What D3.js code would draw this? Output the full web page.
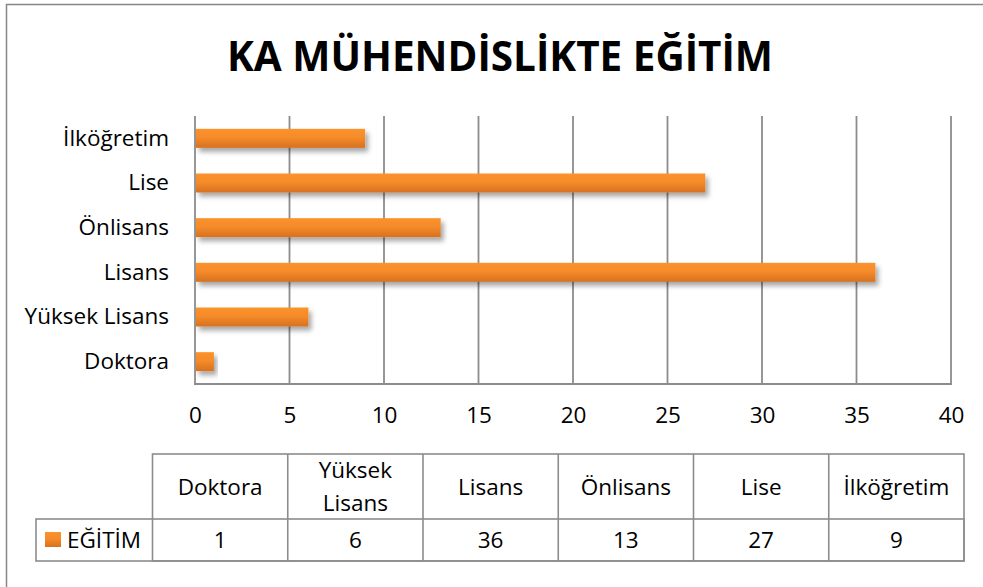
<!DOCTYPE html>
<html>
<head>
<meta charset="utf-8">
<script src="https://cdn.jsdelivr.net/npm/d3@7"></script>
<style>
  body { margin: 0; background: #fff; }
  text { font-family: "Open Sans", sans-serif; fill: #000; }
</style>
</head>
<body>
<div id="chart"></div>
<script>
var width = 983
var height = 587

// data, bottom to top as in the chart
var categories = ["Doktora", "Yüksek Lisans", "Lisans", "Önlisans", "Lise", "İlköğretim"]
var values = [1, 6, 36, 13, 27, 9]
var ticks = [0, 5, 10, 15, 20, 25, 30, 35, 40]
var seriesName = "EĞİTİM"
var title = "KA MÜHENDİSLİKTE EĞİTİM"
// header labels in the table (line breaks where the cell wraps)
var tableHeaders = [["Doktora"], ["Yüksek", "Lisans"], ["Lisans"], ["Önlisans"], ["Lise"], ["İlköğretim"]]

var svg = d3.select("#chart")
  .append("svg")
    .attr("width", width)
    .attr("height", height)

var defs = svg.append("defs")
var grad = defs.append("linearGradient")
    .attr("id", "barGrad")
    .attr("x1", 0).attr("y1", 0).attr("x2", 0).attr("y2", 1)
grad.append("stop").attr("offset", "0%").attr("stop-color", "#fb922c")
grad.append("stop").attr("offset", "45%").attr("stop-color", "#f68b2a")
grad.append("stop").attr("offset", "100%").attr("stop-color", "#d6711f")

var shadow = defs.append("filter")
    .attr("id", "shadow")
    .attr("x", "-10%").attr("y", "-30%")
    .attr("width", "130%").attr("height", "200%")
shadow.append("feDropShadow")
    .attr("dx", 3).attr("dy", 4)
    .attr("stdDeviation", 2.5)
    .attr("flood-color", "#000")
    .attr("flood-opacity", 0.35)

// outer frame
svg.append("rect")
    .attr("x", 6.5).attr("y", 4.5)
    .attr("width", 1000).attr("height", 600)
    .attr("fill", "none")
    .attr("stroke", "#868686")
    .attr("stroke-width", 1.5)

svg.append("text")
    .attr("x", 500)
    .attr("y", 71)
    .attr("text-anchor", "middle")
    .attr("font-size", 42)
    .attr("font-weight", "bold")
    .attr("textLength", 546)
    .attr("lengthAdjust", "spacingAndGlyphs")
    .text(title)

var margin = {top: 116, left: 195, right: 32, bottom: 203}
var plotW = width - margin.left - margin.right
var plotH = height - margin.top - margin.bottom
var fontSize = 22.5

var xScale = d3.scaleLinear()
    .domain([0, 40])
    .range([margin.left, margin.left + plotW])

var yScale = d3.scaleBand()
    .domain(categories.slice().reverse())
    .range([margin.top, margin.top + plotH])
    .paddingInner(0.575)
    .paddingOuter(0.2875)

var gridColor = "#8c8c8c"

// vertical gridlines
svg.append("g")
  .selectAll("line")
  .data(ticks)
  .enter().append("line")
    .attr("x1", d => xScale(d)).attr("x2", d => xScale(d))
    .attr("y1", margin.top).attr("y2", margin.top + plotH + 1)
    .attr("stroke", gridColor)
    .attr("stroke-width", 1.8)

// bottom axis line
svg.append("line")
    .attr("x1", xScale(0) - 1).attr("x2", xScale(40) + 1)
    .attr("y1", margin.top + plotH).attr("y2", margin.top + plotH)
    .attr("stroke", gridColor)
    .attr("stroke-width", 1.8)

// x tick labels
var xAxis = d3.axisBottom(xScale).tickValues(ticks).tickSize(0).tickPadding(23)
var xg = svg.append("g")
    .attr("transform", `translate(0,${margin.top + plotH})`)
    .call(xAxis)
xg.select(".domain").remove()
xg.selectAll("text")
    .attr("font-size", fontSize)
    .attr("font-family", "\"Open Sans\", sans-serif")
    .attr("fill", "#000")

// y category labels
var yAxis = d3.axisLeft(yScale).tickSize(0).tickPadding(26)
var yg = svg.append("g")
    .attr("transform", `translate(${margin.left},0)`)
    .call(yAxis)
yg.select(".domain").remove()
yg.selectAll("text")
    .attr("font-size", fontSize)
    .attr("font-family", "\"Open Sans\", sans-serif")
    .attr("fill", "#000")

// bars
svg.append("g")
  .selectAll("rect")
  .data(categories.map((c, i) => ({cat: c, val: values[i]})))
  .enter().append("rect")
    .attr("x", xScale(0) + 1)
    .attr("y", d => yScale(d.cat))
    .attr("width", d => xScale(d.val) - xScale(0) - 1)
    .attr("height", yScale.bandwidth())
    .attr("fill", "url(#barGrad)")
    .attr("filter", "url(#shadow)")

// data table
var tableLeft = 152.5, tableRight = 964
var headTop = 454, rowTop = 519, rowBottom = 561
var legendLeft = 36
var colX = d3.scaleBand()
    .domain(categories)
    .range([tableLeft, tableRight])

var tg = svg.append("g")
var lineAttr = sel => sel.attr("stroke", gridColor).attr("stroke-width", 1.6).attr("fill", "none")

tg.append("rect")
    .attr("x", tableLeft).attr("y", headTop)
    .attr("width", tableRight - tableLeft).attr("height", rowBottom - headTop)
    .call(lineAttr)
tg.append("rect")
    .attr("x", legendLeft).attr("y", rowTop)
    .attr("width", tableRight - legendLeft).attr("height", rowBottom - rowTop)
    .call(lineAttr)
tg.selectAll(".vline")
  .data(categories.slice(1))
  .enter().append("line")
    .attr("x1", d => colX(d)).attr("x2", d => colX(d))
    .attr("y1", headTop).attr("y2", rowBottom)
    .call(lineAttr)

tg.selectAll(".head")
  .data(categories)
  .enter().append("text")
    .attr("x", d => colX(d) + colX.bandwidth() / 2)
    .attr("y", (d, i) => tableHeaders[i].length > 1 ? 478 : 495)
    .attr("text-anchor", "middle")
    .attr("font-size", fontSize)
    .each(function(d, i) {
      var t = d3.select(this)
      tableHeaders[i].forEach((line, j) => {
        t.append("tspan")
          .attr("x", colX(d) + colX.bandwidth() / 2)
          .attr("dy", j === 0 ? 0 : 33)
          .text(line)
      })
    })

tg.selectAll(".val")
  .data(categories)
  .enter().append("text")
    .attr("x", d => colX(d) + colX.bandwidth() / 2)
    .attr("y", 548)
    .attr("text-anchor", "middle")
    .attr("font-size", fontSize)
    .text((d, i) => values[i])

tg.append("rect")
    .attr("x", 45).attr("y", 532)
    .attr("width", 16).attr("height", 15)
    .attr("fill", "url(#barGrad)")
tg.append("text")
    .attr("x", 67).attr("y", 548)
    .attr("font-size", fontSize)
    .text(seriesName)
</script>
</body>
</html>
